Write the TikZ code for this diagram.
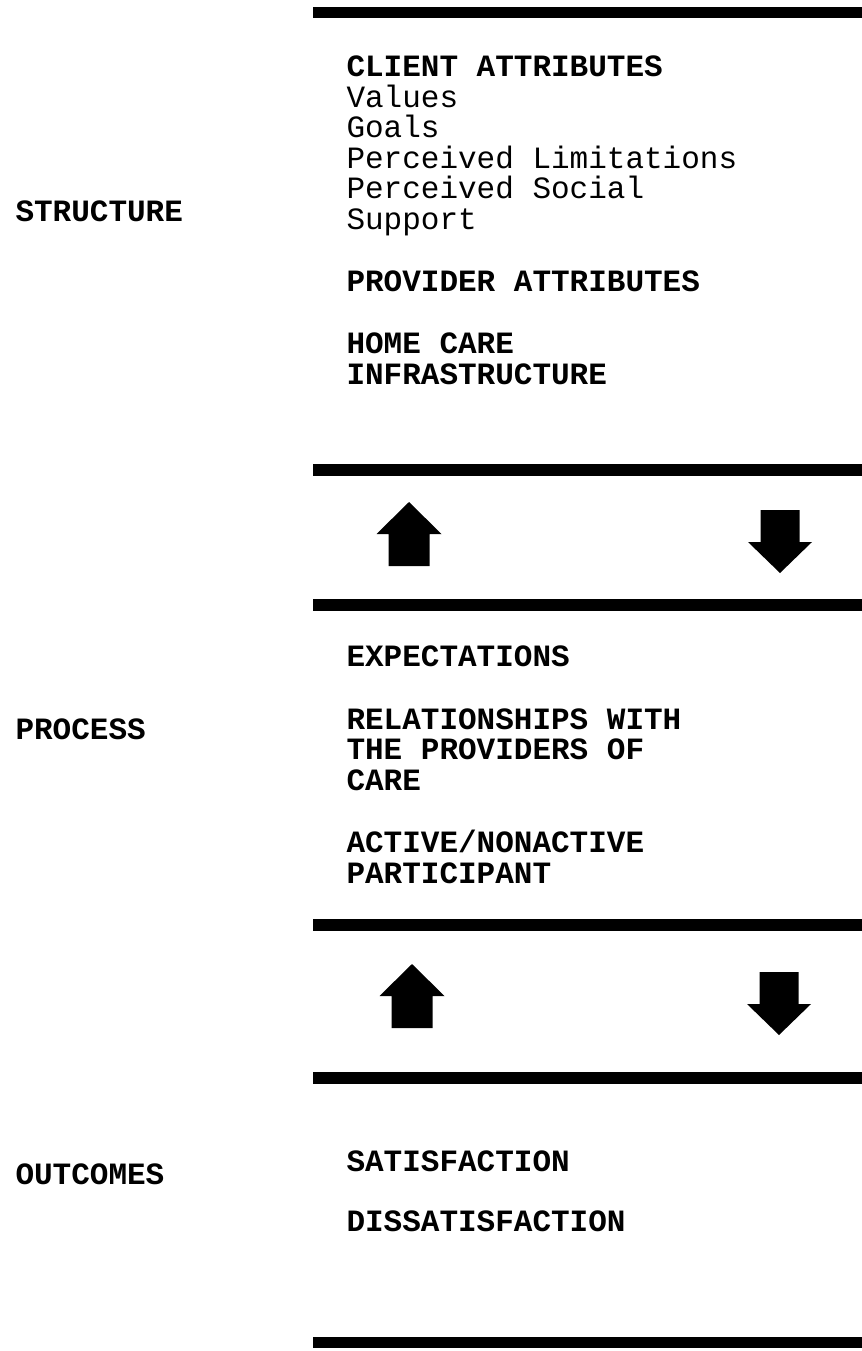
\documentclass[tikz,border=0pt]{standalone}
\usepackage{fontspec}
\newfontfamily\typewriter{Liberation Mono}
\tikzset{
  entry/.style={anchor=base west,inner sep=0pt,align=left,
    font=\typewriter\fontsize{12}{11.8}\selectfont},
  heading/.style={entry,font=\typewriter\bfseries\fontsize{12}{11.8}\selectfont},
  band/.style={fill=black},
  uparrow/.pic={\fill (0,0) -- (32.5,32) -- (20.5,32) -- (20.5,64)
    -- (-20.5,64) -- (-20.5,32) -- (-32.5,32) -- cycle;},
  downarrow/.pic={\fill (0,0) -- (32,-31) -- (19.5,-31) -- (19.5,-63)
    -- (-19.5,-63) -- (-19.5,-31) -- (-32,-31) -- cycle;}
}

\begin{document}
\begin{tikzpicture}[x=0.3871pt,y=-0.3871pt]
\useasboundingbox (0,0) rectangle (862,1351);
% horizontal rules
\fill[band] (313,7) rectangle (862,18);
\fill[band] (313,464) rectangle (862,476);
\fill[band] (313,599) rectangle (862,611);
\fill[band] (313,919) rectangle (862,931);
\fill[band] (313,1072) rectangle (862,1084);
\fill[band] (313,1337) rectangle (862,1348);
% row names
\node[heading] (structure) at (15,221) {STRUCTURE};
\node[heading] (process) at (15,739) {PROCESS};
\node[heading] (outcomes) at (15,1184) {OUTCOMES};
% structure (base = last line)
\node[entry] (client) at (346,229) {\textbf{CLIENT ATTRIBUTES}\\Values\\Goals\\Perceived Limitations\\Perceived Social\\Support};
\node[heading] (provider) at (346,291) {PROVIDER ATTRIBUTES};
\node[heading] (homecare) at (346,384) {HOME CARE\\INFRASTRUCTURE};
% process
\node[heading] (expect) at (346,666) {EXPECTATIONS};
\node[heading] (relation) at (346,790) {RELATIONSHIPS WITH\\THE PROVIDERS OF\\CARE};
\node[heading] (active) at (346,883) {ACTIVE/NONACTIVE\\PARTICIPANT};
% outcomes
\node[heading] (satis) at (346,1171) {SATISFACTION};
\node[heading] (dissatis) at (346,1231) {DISSATISFACTION};
% block arrows
\pic at (409,502) {uparrow};
\pic at (780,573) {downarrow};
\pic at (412,964) {uparrow};
\pic at (779,1035) {downarrow};
\end{tikzpicture}
\end{document}
